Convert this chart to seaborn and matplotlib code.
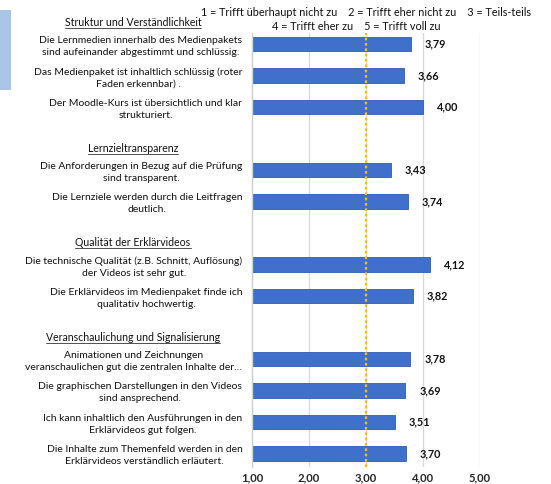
import pandas as pd
import numpy as np
import matplotlib
matplotlib.use("Agg")
import matplotlib.pyplot as plt
import matplotlib.transforms as mtransforms
from matplotlib.lines import Line2D
from matplotlib.patches import Rectangle
import seaborn as sns

# --- data -------------------------------------------------------------
sections = ["Struktur und Verständlichkeit",
            "Lernzieltransparenz",
            "Qualität der Erklärvideos",
            "Veranschaulichung und Signalisierung"]

items_struktur = ["Die Lernmedien innerhalb des Medienpakets\nsind aufeinander abgestimmt und schlüssig.",
                  "Das Medienpaket ist inhaltlich schlüssig (roter\nFaden erkennbar) .",
                  "Der Moodle-Kurs ist übersichtlich und klar\nstrukturiert."]
values_struktur = [3.79, 3.66, 4.00]

items_lernziel = ["Die Anforderungen in Bezug auf die Prüfung\nsind transparent.",
                  "Die Lernziele werden durch die Leitfragen\ndeutlich."]
values_lernziel = [3.43, 3.74]

items_qualitaet = ["Die technische Qualität (z.B. Schnitt, Auflösung)\nder Videos ist sehr gut.",
                   "Die Erklärvideos im Medienpaket finde ich\nqualitativ hochwertig."]
values_qualitaet = [4.12, 3.82]

items_veran = ["Animationen und Zeichnungen\nveranschaulichen gut die zentralen Inhalte der…",
               "Die graphischen Darstellungen in den Videos\nsind ansprechend.",
               "Ich kann inhaltlich den Ausführungen in den\nErklärvideos gut folgen.",
               "Die Inhalte zum Themenfeld werden in den\nErklärvideos verständlich erläutert."]
values_veran = [3.78, 3.69, 3.51, 3.70]

scale_ticks = [1, 2, 3, 4, 5]
scale_line1 = "1 = Trifft überhaupt nicht zu    2 = Trifft eher nicht zu    3 = Teils-teils"
scale_line2 = "4 = Trifft eher zu    5 = Trifft voll zu"
neutral = 3

# --- long table with header slots -------------------------------------
groups = [(sections[0], items_struktur, values_struktur),
          (sections[1], items_lernziel, values_lernziel),
          (sections[2], items_qualitaet, values_qualitaet),
          (sections[3], items_veran, values_veran)]

rows, order = [], []
for sec, items, vals in groups:
    order.append("#" + sec)          # empty slot for the section title
    for it, v in zip(items, vals):
        order.append(it)
        rows.append({"Item": it, "Wert": v, "Bereich": sec})
df = pd.DataFrame(rows)

# --- plot -------------------------------------------------------------
sns.set_style("white")
plt.rcParams["font.family"] = ["Lato", "DejaVu Sans"]
fs_item = 7.5
fs_head = 7.6
fs_small = 7.8

fig = plt.figure(figsize=(5.51, 4.84), dpi=100)
ax = fig.add_axes([252 / 551, 1 - 467 / 484, 228 / 551, 434 / 484])

sns.barplot(data=df, x="Wert", y="Item", order=order, orient="h",
            color="#4070cc", saturation=1, edgecolor="#315cb4", linewidth=0.6,
            width=0.47, ax=ax, errorbar=None)

ax.set_xticks(scale_ticks)
ax.set_xticklabels([f"{t:.2f}".replace(".", ",") for t in scale_ticks],
                   fontsize=8.1, fontweight="bold", color="#262626")
ax.set_yticks(range(len(order)))
ax.set_yticklabels(["" if o.startswith("#") else o for o in order],
                   fontsize=fs_item, color="#111111")
for lab in ax.get_yticklabels():
    lab.set_multialignment("center")
    lab.set_linespacing(1.4)
ax.set_xlim(1, 5)
ax.set_ylim(len(order) - 1 + 0.43, 0.65)
ax.tick_params(axis="y", length=0, pad=7)
ax.tick_params(axis="x", length=0, pad=4)
ax.set_xlabel("")
ax.set_ylabel("")

ax.grid(axis="x", color="#d9d9d9", linewidth=1.0)
ax.set_axisbelow(True)
for s in ["top", "right", "bottom"]:
    ax.spines[s].set_visible(False)
ax.spines["left"].set_color("#d0d0d0")
ax.spines["left"].set_linewidth(1.0)

ax.axvline(neutral, color="#ffc000", linestyle=(0, (1.2, 1.2)), linewidth=1.6, zorder=3)

# value labels
for _, r in df.iterrows():
    ypos = order.index(r["Item"])
    ax.annotate(f"{r['Wert']:.2f}".replace(".", ","), (r["Wert"], ypos),
                xytext=(10, 0), textcoords="offset points",
                ha="left", va="center", fontsize=fs_small, fontweight="bold",
                color="#111111")

# section titles (underlined)
blend = mtransforms.blended_transform_factory(fig.transFigure, ax.transData)
titles = []
for sec in sections:
    ypos = order.index("#" + sec) + 0.42
    t = ax.text(133 / 551, ypos, sec, transform=blend, ha="center",
                va="baseline", fontsize=fs_head, color="#111111", clip_on=False)
    titles.append(t)

# scale explanation
fig.text(366 / 551, 1 - 13 / 484, scale_line1, ha="center", va="center",
         fontsize=fs_small, color="#111111")
fig.text(356 / 551, 1 - 27 / 484, scale_line2, ha="center", va="center",
         fontsize=fs_small, color="#111111")

# light blue tab on the left edge
fig.patches.append(Rectangle((0, 1 - 90 / 484), 11 / 551, 80 / 484,
                             transform=fig.transFigure, facecolor="#a9c6e9",
                             edgecolor="none"))

fig.canvas.draw()
renderer = fig.canvas.get_renderer()
inv = fig.transFigure.inverted()
for t in titles:
    bb = t.get_window_extent(renderer)
    base = blend.transform((0, t.get_position()[1]))[1] - 1.8
    (x0, y0), (x1, _) = inv.transform([(bb.x0, base), (bb.x1, base)])
    fig.add_artist(Line2D([x0, x1], [y0, y0], color="#333333", linewidth=0.6))

fig.savefig("out.png", dpi=100)
